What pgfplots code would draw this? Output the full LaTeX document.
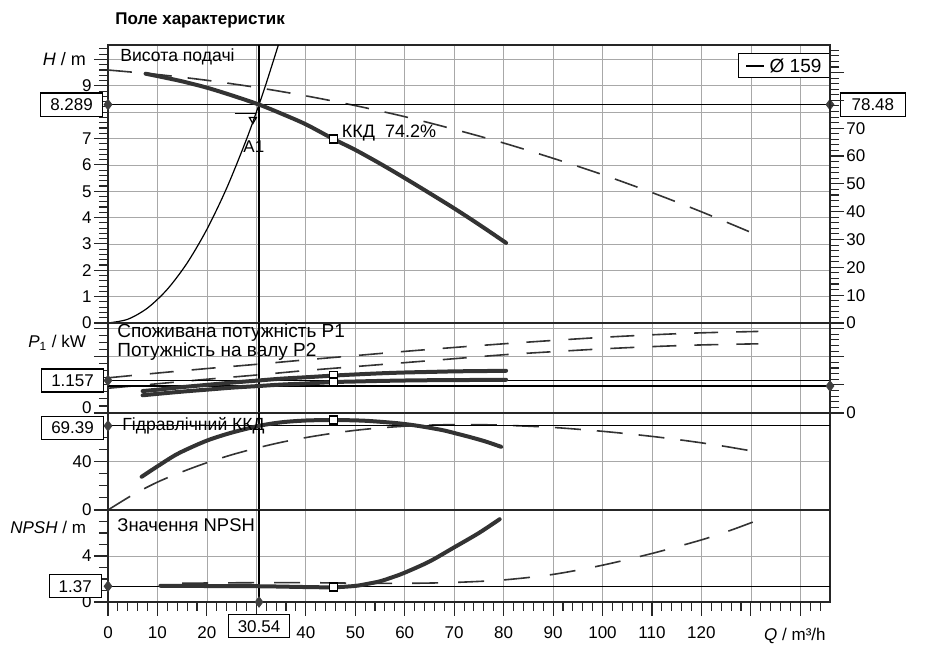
\documentclass[border=0pt]{standalone}
\usepackage{fontspec}
\setmainfont{Liberation Sans}
\usepackage{pgfplots}
\pgfplotsset{compat=1.18}
\definecolor{curve}{HTML}{333333}
\definecolor{gridc}{HTML}{A8A8A8}
\tikzset{vbox/.style={draw=black, line width=0.6pt, fill=white, inner xsep=4.8pt, inner ysep=2.8pt, font=\fontsize{8.5}{9}\selectfont}}
\begin{document}
\begin{tikzpicture}[font=\fontsize{8.5}{10}\selectfont]
\pgfplotsset{
 tk/.style={
   every tick/.style={line width=0.55pt, black!85},
   major tick length=7pt, minor tick length=4.5pt, tick align=outside,
   tick label style={font=\fontsize{8.5}{9}\selectfont},
   yticklabel style={inner xsep=1pt},
   /pgf/number format/assume math mode=true},
 base/.style={tk, scale only axis, width=361pt, xmin=0, xmax=146,
   xtick={0,10,...,140}, clip=false,
   axis line style={line width=0.7pt, black!85},
   ytick pos=left, xmajorgrids=true, ymajorgrids=true,
   major grid style={line width=0.35pt, gridc}},
 nox/.style={xmajorticks=false, xticklabels={}},
 over/.style={tk, scale only axis, width=361pt, xmin=0, xmax=146,
   axis x line=none, axis y line*=right, ytick pos=right, yticklabel pos=right,
   axis line style={-, line width=0.7pt, black!85}},
 thick curve/.style={line width=2pt, curve, line cap=round},
 dash curve/.style={line width=0.8pt, curve, dash pattern=on 12pt off 8pt},
 thin line/.style={line width=0.6pt, black},
 bep/.style={only marks, mark=square*, mark size=2pt, mark options={fill=white, draw=black, line width=0.8pt, solid}},
 dia/.style={only marks, mark=diamond*, mark size=2.6pt, mark options={fill=black!75, draw=black!75}},
}
\path[use as bounding box] (-54pt,-30.5pt) rectangle (409pt,301pt);

% ---------------- Panel 1: head ----------------
\begin{axis}[base, nox, at={(0pt,139.5pt)}, anchor=south west, height=139pt,
  ymin=0, ymax=10.55, ytick={0,1,...,10}, yticklabels={0,1,2,3,4,5,6,7,{},9,{}},
  minor ytick={0.2,0.4,0.6,0.8,1.2,1.4,1.6,1.8,2.2,2.4,2.6,2.8,3.2,3.4,3.6,3.8,4.2,4.4,4.6,4.8,5.2,5.4,5.6,5.8,6.2,6.4,6.6,6.8,7.2,7.4,7.6,7.8,8.2,8.4,8.6,8.8,9.2,9.4,9.6,9.8,10.2,10.4}]
\addplot[thin line, smooth] coordinates {(0,0) (4,0.142) (8,0.569) (12,1.280) (16,2.275) (20,3.555) (24,5.119) (28,6.967) (30.54,8.289) (32,9.100) (34.45,10.55)};
\addplot[dash curve, smooth] coordinates {(0,9.60) (10,9.43) (20,9.21) (30,8.94) (40,8.62) (50,8.25) (60,7.83) (70,7.35) (80,6.83) (90,6.25) (100,5.63) (110,4.95) (120,4.22) (130.5,3.40)};
\addplot[thin line] coordinates {(0,8.289) (146,8.289)};
\addplot[thin line] coordinates {(30.54,0) (30.54,10.55)};
\addplot[thick curve, smooth] coordinates {(7.6,9.46) (10,9.37) (15,9.17) (20,8.93) (25,8.64) (30.54,8.289) (35,7.95) (40,7.54) (45.6,6.98) (50,6.57) (55,6.05) (60,5.50) (65,4.93) (70,4.35) (75,3.74) (80.5,3.04)};
\addplot[bep] coordinates {(45.6,6.98)};
\addplot[thin line] coordinates {(25.6,7.95) (30.0,7.95)};
\addplot[only marks, mark=triangle, mark size=2pt, mark options={rotate=180, draw=black, line width=0.6pt, fill=white}] coordinates {(29.3,7.72)};
\addplot[dia] coordinates {(0,8.289) (146,8.289)};
\node at (axis cs:29.5,6.7) {A1};
\node[anchor=base west, inner sep=0, xshift=2pt, font=\fontsize{9}{10}\selectfont] at (axis cs:46.4,7.05) {ККД\ \ 74.2\%};
\node[vbox, anchor=east, xshift=-2.5pt] at (axis cs:0,8.289) {8.289};
\node[vbox, anchor=west, xshift=5pt, inner xsep=5.5pt] at (axis cs:146,8.289) {78.48};
\node[draw=black, line width=0.6pt, fill=white, anchor=north east, inner xsep=4pt, inner ysep=2.5pt, font=\fontsize{9.5}{10}\selectfont, yshift=-4pt] at (rel axis cs:1,1) {\rule[0.55ex]{9pt}{0.8pt}\ Ø 159};
\node[anchor=base west, inner sep=0, xshift=6pt, yshift=-8.5pt, font=\fontsize{8.8}{10}\selectfont] at (rel axis cs:0,1) {Висота подачі};
\node[anchor=east, xshift=-7.5pt, font=\fontsize{9}{10}\selectfont] at (axis cs:0,10) {\textit{H} / m};
\node[anchor=base west, inner sep=0, xshift=3.5pt, yshift=10pt, font=\bfseries\fontsize{8.5}{10}\selectfont] at (rel axis cs:0,1) {Поле характеристик};
\end{axis}
\begin{axis}[over, at={(0pt,139.5pt)}, anchor=south west, height=139pt,
  ymin=0, ymax=99.9, ytick={0,10,...,90}, yticklabels={0,10,20,30,40,50,60,70,{},{}},
  minor ytick={2,4,6,8,12,14,16,18,22,24,26,28,32,34,36,38,42,44,46,48,52,54,56,58,62,64,66,68,72,74,76,78,82,84,86,88,92,94,96,98}]
\addplot[draw=none, forget plot] coordinates {(0,0)};
\node[anchor=west, xshift=8pt] at (axis cs:146,91) {Δ\textit{p} / kPa};
\end{axis}

% ---------------- Panel 2: power ----------------
\begin{axis}[base, nox, at={(0pt,94.5pt)}, anchor=south west, height=45pt,
  ymin=0, ymax=3.2, ytick={0,1,2,3}, yticklabels={0,{},{},{}},
  yticklabel style={yshift=2.5pt},
  minor ytick={0.25,0.5,0.75,1.25,1.5,1.75,2.25,2.5,2.75,3.0}]
\addplot[dash curve, smooth, dash pattern=on 12pt off 9pt] coordinates {(0,1.25) (10,1.42) (20,1.58) (30,1.73) (40,1.89) (50,2.04) (60,2.19) (70,2.33) (80,2.46) (90,2.58) (100,2.69) (110,2.78) (120,2.85) (131.5,2.90)};
\addplot[dash curve, smooth, dash pattern=on 12pt off 9pt] coordinates {(0,0.88) (10,1.04) (20,1.20) (30,1.35) (40,1.51) (50,1.65) (60,1.79) (70,1.93) (80,2.07) (90,2.18) (100,2.28) (110,2.36) (120,2.42) (131.5,2.46)};
\addplot[thin line] coordinates {(0,1.157) (146,1.157)};
\addplot[thin line] coordinates {(0,0.96) (146,0.96)};
\addplot[thin line] coordinates {(30.54,0) (30.54,3.2)};
\addplot[thick curve, smooth] coordinates {(7,0.78) (10,0.83) (15,0.92) (20,1.00) (25,1.08) (30.54,1.157) (35,1.22) (40,1.27) (45.6,1.33) (50,1.37) (55,1.41) (60,1.44) (65,1.46) (70,1.48) (75,1.49) (80.5,1.50)};
\addplot[thick curve, smooth] coordinates {(7,0.63) (10,0.68) (15,0.76) (20,0.83) (25,0.90) (30.54,0.96) (35,1.01) (40,1.05) (45.6,1.10) (50,1.12) (55,1.14) (60,1.155) (65,1.165) (70,1.17) (75,1.175) (80.5,1.18)};
\addplot[bep] coordinates {(45.6,1.33) (45.6,1.10)};
\addplot[dia] coordinates {(0,1.157)};
\node[vbox, anchor=east, xshift=-2pt] at (axis cs:0,1.157) {1.157};
\node[anchor=base west, inner sep=0, xshift=4.5pt, yshift=-7.5pt, font=\fontsize{9.5}{10}\selectfont] at (rel axis cs:0,1) {Споживана потужність P1};
\node[anchor=base west, inner sep=0, xshift=4.5pt, yshift=-17pt, font=\fontsize{9.5}{10}\selectfont] at (rel axis cs:0,1) {Потужність на валу P2};
\node[anchor=east, xshift=-7.5pt] at (axis cs:0,2.5) {\textit{P}\textsubscript{1} / kW};
\end{axis}
\begin{axis}[over, at={(0pt,94.5pt)}, anchor=south west, height=45pt,
  ymin=0, ymax=3.2, ytick={0,1,2,3}, yticklabels={0,{},{},{}},
  minor ytick={0.2,0.4,0.6,0.8,1.2,1.4,1.6,1.8,2.2,2.4,2.6,2.8,3.2}]
\addplot[dia] coordinates {(146,0.96)};
\node[vbox, anchor=west, xshift=4.5pt] at (axis cs:146,0.96) {0.96};
\node[anchor=west, xshift=8pt] at (axis cs:146,2.4) {\textit{P}\textsubscript{2} / kW};
\end{axis}

% ---------------- Panel 3: efficiency ----------------
\begin{axis}[base, nox, at={(0pt,46pt)}, anchor=south west, height=48.5pt,
  ymin=0, ymax=80, ytick={0,40,80}, yticklabels={0,40,{}}, minor ytick={10,20,30,50,60,70}]
\addplot[dash curve, smooth, dash pattern=on 13pt off 8pt] coordinates {(0,0) (5,12.5) (10,23) (15,31.5) (20,39) (25,45.5) (30,51) (35,55.8) (40,59.7) (45,63) (50,65.7) (55,67.7) (60,69.1) (65,70.0) (70,70.4) (75,70.4) (80,69.9) (85,69.1) (90,68.1) (95,66.6) (100,64.9) (105,62.9) (110,60.7) (115,58.2) (120,55.4) (125,52.3) (130,48.8)};
\addplot[thin line] coordinates {(0,69.39) (146,69.39)};
\addplot[thin line] coordinates {(30.54,0) (30.54,80)};
\addplot[thick curve, smooth] coordinates {(6.8,27.4) (10,36.0) (13.7,45.5) (17,52.0) (20.5,58.0) (25,63.8) (30.54,69.39) (35,72.3) (40,73.8) (45.6,74.2) (52,73.6) (58.7,71.5) (63,69.2) (67.6,65.9) (70.5,63.0) (73.6,59.7) (76.5,56.3) (79.5,52.1)};
\addplot[bep] coordinates {(45.6,74.2)};
\addplot[dia] coordinates {(0,69.39)};
\node[vbox, anchor=east, xshift=-2pt, yshift=-1pt] at (axis cs:0,69.39) {69.39};
\node[anchor=west, inner sep=0, xshift=7pt, font=\fontsize{8.8}{10}\selectfont] at (axis cs:0,69.39) {Гідравлічний ККД};
\end{axis}

% ---------------- Panel 4: NPSH ----------------
\begin{axis}[base, at={(0pt,0pt)}, anchor=south west, height=46pt,
  ymin=0, ymax=8, ytick={0,4,8}, yticklabels={0,4,{}}, minor ytick={1,2,3,5,6,7},
  xtick pos=bottom, xticklabels={0,10,20,{},40,50,60,70,80,90,100,110,120,{},{}},
  minor xtick={0,2,...,144}, xticklabel shift=2pt]
\addplot[dash curve, smooth, dash pattern=on 13pt off 10pt] coordinates {(15,1.63) (20,1.65) (30,1.68) (40,1.68) (50,1.64) (60,1.62) (70,1.70) (80,1.92) (90,2.40) (100,3.20) (110,4.22) (120,5.40) (126,6.25) (130.7,7.0)};
\addplot[thin line] coordinates {(0,1.37) (146,1.37)};
\addplot[thin line] coordinates {(30.54,0) (30.54,8)};
\addplot[thick curve, smooth] coordinates {(10.6,1.41) (15,1.40) (20,1.39) (25,1.38) (30.54,1.37) (35,1.34) (40,1.30) (45.6,1.28) (50,1.40) (52.5,1.58) (55,1.80) (57.5,2.15) (60,2.55) (65,3.52) (70,4.75) (75,6.0) (79.2,7.2)};
\addplot[bep] coordinates {(45.6,1.28)};
\addplot[dia] coordinates {(0,1.37) (30.54,0)};
\node[vbox, anchor=east, xshift=-3pt] at (axis cs:0,1.37) {1.37};
\node[vbox, anchor=north, yshift=-6pt] at (axis cs:30.54,0) {30.54};
\node[anchor=base west, inner sep=0, xshift=4.5pt, yshift=-10.5pt, font=\fontsize{9.2}{10}\selectfont] at (rel axis cs:0,1) {Значення NPSH};
\node[anchor=east, xshift=-7.5pt] at (axis cs:0,6.5) {\textit{NPSH} / m};
\node[anchor=north east, inner sep=0, xshift=-2pt, yshift=-13pt] at (rel axis cs:1,0) {\textit{Q} / m³/h};
\end{axis}
\end{tikzpicture}
\end{document}
